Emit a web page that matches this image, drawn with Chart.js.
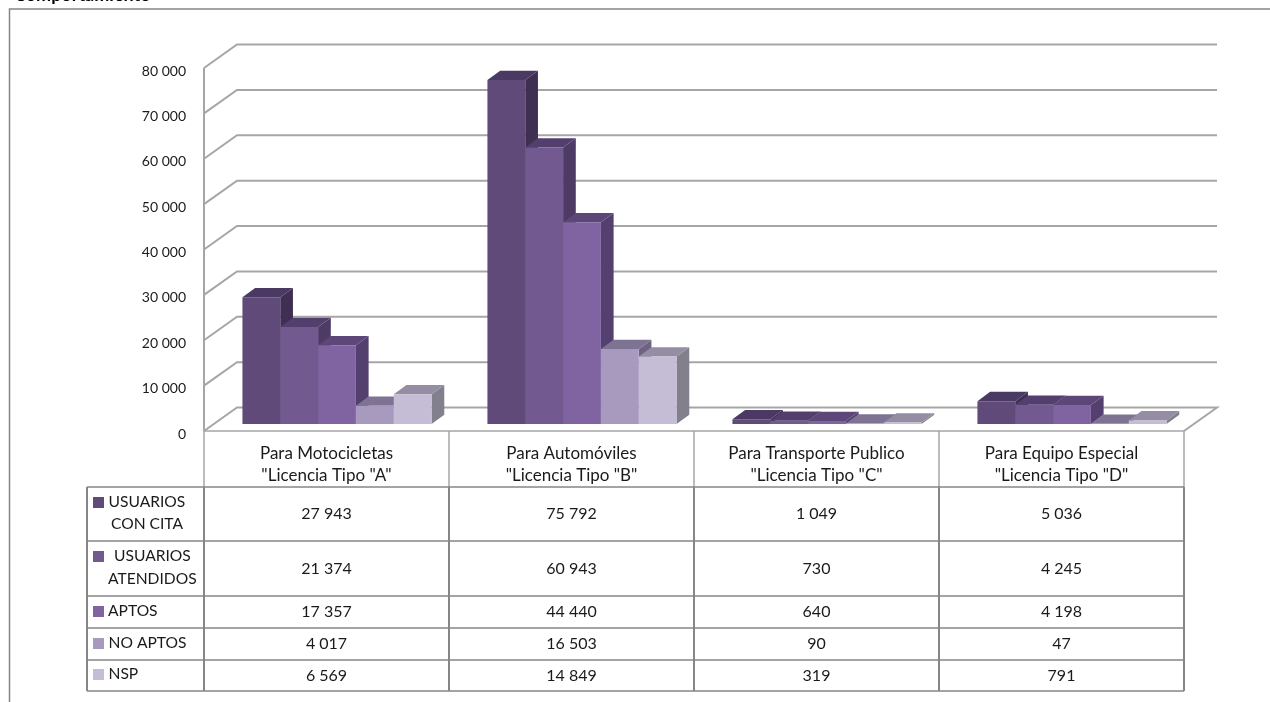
<!DOCTYPE html>
<html>
<head>
<meta charset="utf-8">
<title>Licencias</title>
<style>
  html, body { margin: 0; padding: 0; background: #fff; }
  canvas { display: block; }
</style>
<script src="https://cdn.jsdelivr.net/npm/chart.js@4"></script>
</head>
<body>
<canvas id="licenciasChart" width="1270" height="702"></canvas>
<script>
const categories = [
  ['Para Motocicletas', '"Licencia Tipo "A"'],
  ['Para Automóviles', '"Licencia Tipo "B"'],
  ['Para Transporte Publico', '"Licencia Tipo "C"'],
  ['Para Equipo Especial', '"Licencia Tipo "D"'],
]
const seriesNames = ['USUARIOS CON CITA', 'USUARIOS ATENDIDOS', 'APTOS', 'NO APTOS', 'NSP']

const usuariosConCita = [27943, 75792, 1049, 5036]
const usuariosAtendidos = [21374, 60943, 730, 4245]
const aptos = [17357, 44440, 640, 4198]
const noAptos = [4017, 16503, 90, 47]
const nsp = [6569, 14849, 319, 791]

const yTicks = [0, 10000, 20000, 30000, 40000, 50000, 60000, 70000, 80000]

const faceColors = ['#5f4a7a', '#72598f', '#8064a2', '#a899bf', '#c5bdd5']
const topColors = ['#4a3962', '#523f6e', '#5d4778', '#7f7393', '#958da3']
const sideColors = ['#3f3053', '#4d3b66', '#54406e', '#6e6382', '#81808c']

const GREY = '#a6a6a6'
const TEXT = '#1a1a1a'
const FONT = 'Lato, "Open Sans", sans-serif'

function fmt(n) {
  return String(n).replace(/\B(?=(\d{3})+$)/g, ' ')
}

// fake 3D: back walls + bar sides, the bar fronts themselves come from chart.js
const depth3d = {
  id: 'depth3d',
  beforeDraw(chart) {
    const ctx = chart.ctx
    ctx.save()
    // outer frame of the embedded object
    ctx.strokeStyle = '#868686'
    ctx.lineWidth = 1.5
    ctx.beginPath()
    ctx.moveTo(9.5, 702)
    ctx.lineTo(9.5, 9)
    ctx.lineTo(1270, 9)
    ctx.stroke()
    // title is cut off by the top of the picture
    ctx.fillStyle = '#000'
    ctx.font = 'bold 18px ' + FONT
    ctx.textBaseline = 'alphabetic'
    ctx.fillText('Comportamiento', 14, 0.5)
    ctx.restore()
  },
  beforeDatasetsDraw(chart) {
    const ctx = chart.ctx
    const y = chart.scales.y
    ctx.save()
    // gridlines on left wall and back wall
    ctx.strokeStyle = GREY
    ctx.lineWidth = 2
    yTicks.forEach((t) => {
      const py = y.getPixelForValue(t) + 7
      ctx.beginPath()
      ctx.moveTo(204, py)
      ctx.lineTo(237, py - 23.5)
      ctx.lineTo(1217, py - 23.5)
      if (t === 0) ctx.lineTo(1184, py)
      ctx.stroke()
    })
    ctx.beginPath()
    ctx.moveTo(204, y.getPixelForValue(80000) + 7)
    ctx.lineTo(204, y.getPixelForValue(0) + 7)
    ctx.stroke()

    // tops and sides, left to right so next bar covers the previous side
    const dx = 12.7
    const dy = 9.3
    for (let c = 0; c < categories.length; c++) {
      chart.data.datasets.forEach((ds, i) => {
        const el = chart.getDatasetMeta(i).data[c]
        const l = el.x - el.width / 2
        const r = el.x + el.width / 2
        ctx.fillStyle = sideColors[i]
        ctx.beginPath()
        ctx.moveTo(r, el.y)
        ctx.lineTo(r + dx, el.y - dy)
        ctx.lineTo(r + dx, el.base - dy)
        ctx.lineTo(r, el.base)
        ctx.fill()
        ctx.fillStyle = topColors[i]
        ctx.beginPath()
        ctx.moveTo(l, el.y)
        ctx.lineTo(l + dx, el.y - dy)
        ctx.lineTo(r + dx, el.y - dy)
        ctx.lineTo(r, el.y)
        ctx.fill()
      })
    }
    ctx.restore()
  },
  afterDraw(chart) {
    drawDataTable(chart)
  },
}

function drawDataTable(chart) {
  const ctx = chart.ctx
  const colX = [204, 449, 694, 939, 1184]
  const rowY = [487, 541, 596, 628, 660, 691]
  const keyY = [497, 551, 606, 638, 669]
  // label lines per row: text, x (left aligned), y centre
  const labelLines = [
    [['USUARIOS', 108.5, 502], ['CON CITA', 111, 524]],
    [['USUARIOS', 114, 556], ['ATENDIDOS', 108, 579]],
    [['APTOS', 108, 611]],
    [['NO APTOS', 108.5, 643]],
    [['NSP', 108.5, 674]],
  ]
  const rows = [usuariosConCita, usuariosAtendidos, aptos, noAptos, nsp]
  const floorY = chart.scales.y.getPixelForValue(0) + 7

  ctx.save()
  // header cell lines
  ctx.strokeStyle = GREY
  ctx.lineWidth = 1.5
  colX.forEach((x) => {
    ctx.beginPath()
    ctx.moveTo(x, floorY)
    ctx.lineTo(x, rowY[0])
    ctx.stroke()
  })
  ctx.beginPath()
  ctx.moveTo(204, floorY)
  ctx.lineTo(1184, floorY)
  ctx.stroke()

  // body lines
  ctx.strokeStyle = '#868686'
  rowY.forEach((y) => {
    ctx.beginPath()
    ctx.moveTo(87, y)
    ctx.lineTo(1184, y)
    ctx.stroke()
  })
  ctx.lineWidth = 2
  ;[87, ...colX].forEach((x) => {
    ctx.beginPath()
    ctx.moveTo(x, rowY[0])
    ctx.lineTo(x, rowY[5])
    ctx.stroke()
  })

  ctx.textBaseline = 'middle'
  rows.forEach((values, r) => {
    ctx.fillStyle = faceColors[r]
    ctx.fillRect(93, keyY[r], 11, 11)
    ctx.fillStyle = TEXT
    ctx.font = '15.6px ' + FONT
    ctx.textAlign = 'left'
    labelLines[r].forEach(([text, x, y]) => ctx.fillText(text, x, y))
    ctx.font = '16px ' + FONT
    ctx.textAlign = 'center'
    values.forEach((v, c) => {
      ctx.fillText(fmt(v), (colX[c] + colX[c + 1]) / 2, (rowY[r] + rowY[r + 1]) / 2)
    })
  })
  ctx.restore()
}

const seriesValues = [usuariosConCita, usuariosAtendidos, aptos, noAptos, nsp]

new Chart(document.getElementById('licenciasChart'), {
  type: 'bar',
  data: {
    labels: categories,
    datasets: seriesNames.map((name, i) => ({
      label: name,
      data: seriesValues[i],
      backgroundColor: faceColors[i],
      borderWidth: 0,
      categoryPercentage: 0.772,
      barPercentage: 1,
    })),
  },
  options: {
    responsive: false,
    animation: false,
    layout: { autoPadding: false, padding: { top: 61, right: 75.5, left: 0, bottom: 0 } },
    plugins: { legend: { display: false }, tooltip: { enabled: false } },
    scales: {
      x: {
        grid: { display: false, drawTicks: false },
        border: { display: false },
        afterFit: (s) => { s.height = 278 },
        ticks: {
          color: TEXT,
          font: { family: FONT, size: 17, lineHeight: 1.3 },
          padding: 18,
          labelOffset: -10.5,
          maxRotation: 0,
          autoSkip: false,
        },
      },
      y: {
        min: 0,
        max: 80000,
        grid: { display: false, drawTicks: false },
        border: { display: false },
        afterFit: (s) => { s.width = 214.5 },
        afterBuildTicks: (s) => { s.ticks = yTicks.map((value) => ({ value })) },
        ticks: {
          color: TEXT,
          font: { family: FONT, size: 14 },
          padding: 28.5,
          labelOffset: 10,
          callback: (v) => fmt(v),
        },
      },
    },
  },
  plugins: [depth3d],
})
</script>
</body>
</html>
